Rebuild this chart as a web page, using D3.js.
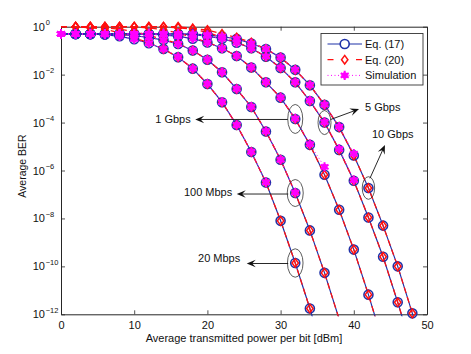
<!DOCTYPE html>
<html>
<head>
<meta charset="utf-8">
<script src="https://cdn.jsdelivr.net/npm/d3@7"></script>
<style>
body { margin: 0; background: #fff; }
svg text { font-family: "Liberation Sans", Arial, Helvetica, sans-serif; fill: #111; }
</style>
</head>
<body>
<svg id="chart" width="471" height="354"></svg>
<script>
// transmitted power per bit [dBm], one entry per marker
var power = [0,2,4,6,8,10,12,14,16,18,20,22,24,26,28,30,32,34,36,38,40,42,44,46,48,50];

// log10(BER), index i goes with power[i]
var eq17_20M = [-0.30,-0.30,-0.31,-0.33,-0.40,-0.52,-0.69,-0.93,-1.27,-1.75,-2.39,-3.15,-4.10,-5.23,-6.50,-8.10,-9.86,-11.76,-13.80];
var eq20_20M = [0.00,0.00,-0.05,-0.10,-0.26,-0.47,-0.66,-0.93,-1.27,-1.75,-2.39,-3.15,-4.10,-5.23,-6.50,-8.10,-9.86,-11.76,-13.80];
var sim_20M  = [-0.30,-0.30,-0.31,-0.33,-0.40,-0.52,-0.69,-0.93,-1.26,-1.75,-2.38,-3.14,-4.10,-5.22,-6.49];

var eq17_100M = [-0.30,-0.30,-0.30,-0.31,-0.33,-0.37,-0.45,-0.56,-0.72,-0.99,-1.38,-1.90,-2.60,-3.35,-4.37,-5.55,-6.94,-8.50,-10.27,-12.20];
var eq20_100M = [0.00,0.00,0.00,-0.05,-0.10,-0.20,-0.36,-0.53,-0.70,-0.99,-1.38,-1.90,-2.60,-3.35,-4.37,-5.55,-6.94,-8.50,-10.27,-12.20];
var sim_100M  = [-0.30,-0.30,-0.30,-0.31,-0.33,-0.37,-0.45,-0.56,-0.72,-0.99,-1.37,-1.90,-2.59,-3.34,-4.36,-5.55,-6.92];

var eq17_1G = [-0.30,-0.30,-0.30,-0.30,-0.30,-0.30,-0.31,-0.34,-0.40,-0.50,-0.66,-0.90,-1.22,-1.70,-2.32,-2.96,-3.85,-4.93,-6.18,-7.64,-9.30,-11.18,-13.20];
var eq20_1G = [0.00,0.00,0.00,0.00,0.00,0.00,-0.05,-0.13,-0.26,-0.45,-0.65,-0.90,-1.22,-1.70,-2.32,-2.96,-3.85,-4.93,-6.18,-7.64,-9.30,-11.18,-13.20];
var sim_1G  = [-0.30,-0.30,-0.30,-0.30,-0.30,-0.30,-0.31,-0.34,-0.40,-0.50,-0.66,-0.90,-1.22,-1.69,-2.31,-2.95,-3.83,-4.90,-5.85];

var eq17_5G = [-0.30,-0.30,-0.30,-0.30,-0.30,-0.30,-0.30,-0.30,-0.31,-0.33,-0.39,-0.50,-0.67,-0.90,-1.25,-1.72,-2.32,-3.10,-4.00,-5.14,-6.43,-7.96,-9.60,-11.50,-13.50];
var eq20_5G = [0.00,0.00,0.00,0.00,0.00,0.00,0.00,0.00,-0.05,-0.10,-0.24,-0.45,-0.65,-0.90,-1.25,-1.72,-2.32,-3.10,-4.00,-5.14,-6.43,-7.96,-9.60,-11.50,-13.50];
var sim_5G  = [-0.30,-0.30,-0.30,-0.30,-0.30,-0.30,-0.30,-0.30,-0.31,-0.33,-0.39,-0.50,-0.67,-0.90,-1.24,-1.71,-2.31,-3.08,-3.98,-5.10,-6.40];

var eq17_10G = [-0.30,-0.30,-0.30,-0.30,-0.30,-0.30,-0.30,-0.30,-0.30,-0.31,-0.34,-0.41,-0.51,-0.70,-0.93,-1.29,-1.80,-2.44,-3.26,-4.19,-5.37,-6.73,-8.30,-10.00,-11.96,-14.00];
var eq20_10G = [0.00,0.00,0.00,0.00,0.00,0.00,0.00,0.00,0.00,-0.07,-0.14,-0.30,-0.45,-0.66,-0.93,-1.29,-1.80,-2.44,-3.26,-4.19,-5.37,-6.73,-8.30,-10.00,-11.96,-14.00];
var sim_10G  = [-0.30,-0.30,-0.30,-0.30,-0.30,-0.30,-0.30,-0.30,-0.30,-0.31,-0.34,-0.41,-0.51,-0.70,-0.93,-1.28,-1.79,-2.43,-3.25,-4.17,-5.30];

var rates = ['20 Mbps', '100 Mbps', '1 Gbps', '5 Gbps', '10 Gbps'];
var eq17 = [eq17_20M, eq17_100M, eq17_1G, eq17_5G, eq17_10G];
var eq20 = [eq20_20M, eq20_100M, eq20_1G, eq20_5G, eq20_10G];
var sim  = [sim_20M, sim_100M, sim_1G, sim_5G, sim_10G];

// which marker of which curve is circled by an annotation
var noteRate  = ['1 Gbps', '100 Mbps', '20 Mbps', '5 Gbps', '10 Gbps'];
var notePower = [32, 32, 32, 36, 42];

var xTicks = [0, 10, 20, 30, 40, 50];
var yExponents = [0, -2, -4, -6, -8, -10, -12];
var legendLabels = ['Eq. (17)', 'Eq. (20)', 'Simulation'];

var BLUE = '#1f32a8', RED = '#ff1010', MAG = '#ff00ff', AXIS = '#262626';

var padL = 61, padR = 427, padT = 26.7, padB = 314.3;

var x = d3.scaleLinear().domain([0, 50]).range([padL, padR]);
var y = d3.scaleLog().domain([1e-12, 1]).range([padB, padT]);

var svg = d3.select('#chart');

// axes, ticks pointing inwards on all four sides
var yTickVals = yExponents.map(function(e) { return Math.pow(10, e); });

var gx = svg.append('g').attr('transform', 'translate(0,' + padB + ')')
    .call(d3.axisBottom(x).tickValues(xTicks).tickSizeInner(-4).tickSizeOuter(0).tickPadding(7));
var gxTop = svg.append('g').attr('transform', 'translate(0,' + padT + ')')
    .call(d3.axisTop(x).tickValues(xTicks).tickSizeInner(-4).tickSizeOuter(0).tickFormat(''));
var gy = svg.append('g').attr('transform', 'translate(' + padL + ',0)')
    .call(d3.axisLeft(y).tickValues(yTickVals).tickSizeInner(-4).tickSizeOuter(0).tickFormat(''));
var gyRight = svg.append('g').attr('transform', 'translate(' + padR + ',0)')
    .call(d3.axisRight(y).tickValues(yTickVals).tickSizeInner(-4).tickSizeOuter(0).tickFormat(''));

[gx, gxTop, gy, gyRight].forEach(function(g) {
    g.select('.domain').attr('stroke', AXIS).attr('stroke-width', 1);
    g.selectAll('.tick line').attr('stroke', AXIS).attr('stroke-width', 0.8);
});
gx.selectAll('.tick text').attr('font-size', 11).attr('fill', '#111')
    .attr('font-family', '"Liberation Sans", Arial, sans-serif');

// 10^n labels on the left
yExponents.forEach(function(e) {
    var ty = y(Math.pow(10, e));
    svg.append('text').attr('x', 45).attr('y', ty + 4)
        .attr('text-anchor', 'end').attr('font-size', 11).text('10');
    svg.append('text').attr('x', 45.7).attr('y', ty - 1.3)
        .attr('font-size', 7.5).text(e === 0 ? '0' : '\u2212' + Math.abs(e));
});

svg.append('text').attr('x', 244).attr('y', 341.5)
    .attr('text-anchor', 'middle').attr('font-size', 11)
    .text('Average transmitted power per bit [dBm]');
svg.append('text')
    .attr('transform', 'translate(25.5,166) rotate(-90)')
    .attr('text-anchor', 'middle').attr('font-size', 10.5)
    .text('Average BER');

// data
svg.append('clipPath').attr('id', 'plotclip').append('rect')
    .attr('x', padL).attr('y', padT - 2)
    .attr('width', padR - padL).attr('height', padB - padT + 4);

var plot = svg.append('g');
var lines = plot.append('g').attr('clip-path', 'url(#plotclip)');

var toPoints = function(vals) {
    return vals.map(function(v, i) { return { p: power[i], v: Math.pow(10, v), e: v }; });
};
var line = d3.line().x(function(d) { return x(d.p); }).y(function(d) { return y(d.v); });
var visible = function(d) { return d.e >= -12.05; };

var diamond = 'M0,-4.3L3.2,0L0,4.3L-3.2,0Z';
var asterisk = d3.symbol().type(d3.symbolAsterisk).size(60);

var drawSeries = function(series, style) {
    series.forEach(function(vals) {
        var pts = toPoints(vals);
        var path = lines.append('path').datum(pts)
            .attr('fill', 'none')
            .attr('stroke', style.color)
            .attr('stroke-width', style.width)
            .attr('d', line);
        if (style.dash) path.attr('stroke-dasharray', style.dash);

        var marks = pts.filter(function(d, i) { return visible(d) && i >= style.firstMarker; });
        var g = plot.append('g');
        if (style.marker === 'circle') {
            g.selectAll('circle').data(marks).enter().append('circle')
                .attr('cx', function(d) { return x(d.p); })
                .attr('cy', function(d) { return y(d.v); })
                .attr('r', 4.5)
                .attr('fill', 'none').attr('stroke', style.color).attr('stroke-width', 1.6);
        } else if (style.marker === 'diamond') {
            g.selectAll('path').data(marks).enter().append('path')
                .attr('transform', function(d) { return 'translate(' + x(d.p) + ',' + y(d.v) + ')'; })
                .attr('d', diamond)
                .attr('fill', 'none').attr('stroke', style.color).attr('stroke-width', 1.5);
        } else {
            var m = g.selectAll('g').data(marks).enter().append('g')
                .attr('transform', function(d) { return 'translate(' + x(d.p) + ',' + y(d.v) + ')'; });
            m.append('circle').attr('r', 3.1).attr('fill', style.color);
            m.append('path').attr('d', asterisk)
                .attr('fill', 'none').attr('stroke', style.color).attr('stroke-width', 2);
        }
    });
};

drawSeries(eq17, { color: BLUE, width: 1.2, marker: 'circle', firstMarker: 1 });
drawSeries(eq20, { color: RED, width: 1.3, dash: '6,4', marker: 'diamond', firstMarker: 1 });
drawSeries(sim, { color: MAG, width: 1, dash: '1,2.5', marker: 'asterisk', firstMarker: 0 });

// annotations: ellipse round a marker, arrow out to a label
var noteLayout = [
    { rx: 7.5, ry: 14.5, from: [-7.5, 0.5], to: [-100, 0.5], text: [-104.5, 4.5], anchor: 'end' },
    { rx: 8, ry: 13.5, from: [-7, 1], to: [-58.5, 1], text: [-63, 2.5], anchor: 'end' },
    { rx: 7.8, ry: 14.2, from: [-7, 0.5], to: [-48.5, 0.5], text: [-55, -1.3], anchor: 'end' },
    { rx: 6.5, ry: 12, from: [6, -3], to: [34.5, -13.5], text: [40.5, -12], anchor: 'start' },
    { rx: 6.2, ry: 11.3, from: [1.5, -9.7], to: [16.5, -43], text: [3.5, -49.7], anchor: 'start' }
];

var notes = svg.append('g');
noteRate.forEach(function(rate, k) {
    var c = rates.indexOf(rate);
    var i = power.indexOf(notePower[k]);
    var cx = x(notePower[k]), cy = y(Math.pow(10, eq17[c][i]));
    var L = noteLayout[k];

    notes.append('ellipse').attr('cx', cx).attr('cy', cy)
        .attr('rx', L.rx).attr('ry', L.ry)
        .attr('fill', 'none').attr('stroke', '#333').attr('stroke-width', 0.8);

    var x0 = cx + L.from[0], y0 = cy + L.from[1];
    var x1 = cx + L.to[0], y1 = cy + L.to[1];
    var len = Math.sqrt((x1 - x0) * (x1 - x0) + (y1 - y0) * (y1 - y0));
    var ux = (x1 - x0) / len, uy = (y1 - y0) / len;
    var nx = -uy, ny = ux;
    var hl = 9, hw = 3.8;
    notes.append('line').attr('x1', x0).attr('y1', y0)
        .attr('x2', x1 - ux * 4).attr('y2', y1 - uy * 4)
        .attr('stroke', '#111').attr('stroke-width', 0.9);
    notes.append('path')
        .attr('d', 'M' + x1 + ',' + y1 +
            'L' + (x1 - ux * hl + nx * hw) + ',' + (y1 - uy * hl + ny * hw) +
            'L' + (x1 - ux * hl * 0.6) + ',' + (y1 - uy * hl * 0.6) +
            'L' + (x1 - ux * hl - nx * hw) + ',' + (y1 - uy * hl - ny * hw) + 'Z')
        .attr('fill', '#111');

    notes.append('text').attr('x', cx + L.text[0]).attr('y', cy + L.text[1])
        .attr('text-anchor', L.anchor).attr('font-size', 11).text(rate);
});

// legend
var lg = svg.append('g').attr('transform', 'translate(321,33.5)');
lg.append('rect').attr('width', 102).attr('height', 51.5)
    .attr('fill', '#fff').attr('stroke', '#333').attr('stroke-width', 0.9);
var legendStyle = [
    { color: BLUE, dash: null, width: 1.2 },
    { color: RED, dash: '6,22.5', width: 1.3 },
    { color: MAG, dash: '1,2.5', width: 1 }
];
legendLabels.forEach(function(lab, k) {
    var ry = 10.5 + k * 15.7;
    var s = legendStyle[k];
    var l = lg.append('line').attr('x1', 6.5).attr('x2', 41).attr('y1', ry).attr('y2', ry)
        .attr('stroke', s.color).attr('stroke-width', s.width);
    if (s.dash) l.attr('stroke-dasharray', s.dash);
    var mg = lg.append('g').attr('transform', 'translate(23.7,' + ry + ')');
    if (k === 0) {
        mg.append('circle').attr('r', 4.5).attr('fill', '#fff')
            .attr('stroke', s.color).attr('stroke-width', 1.6);
    } else if (k === 1) {
        mg.append('path').attr('d', diamond).attr('fill', '#fff')
            .attr('stroke', s.color).attr('stroke-width', 1.5);
    } else {
        mg.append('circle').attr('r', 3.1).attr('fill', s.color);
        mg.append('path').attr('d', asterisk).attr('fill', 'none')
            .attr('stroke', s.color).attr('stroke-width', 2);
    }
    lg.append('text').attr('x', 44).attr('y', ry + 4).attr('font-size', 11).text(lab);
});
</script>
</body>
</html>
